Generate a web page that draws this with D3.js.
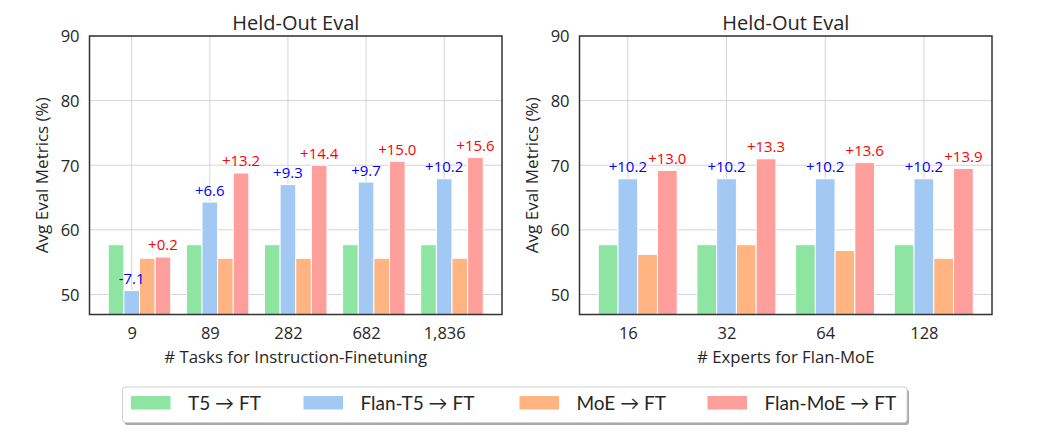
<!DOCTYPE html>
<html>
<head>
<meta charset="utf-8">
<script src="https://cdn.jsdelivr.net/npm/d3@7/dist/d3.min.js"></script>
<style>
  html, body { margin: 0; padding: 0; background: #fff; }
  svg { display: block; }
  text { font-family: "Open Sans", "DejaVu Sans", sans-serif; fill: #262626; }
</style>
</head>
<body>
<svg id="chart" width="1037" height="437"></svg>
<script>
// ---------- Data ----------
const seriesNames = ["T5 \u2192 FT", "Flan-T5 \u2192 FT", "MoE \u2192 FT", "Flan-MoE \u2192 FT"];
const seriesColors = ["#8de5a1", "#a1c9f4", "#ffb482", "#ff9f9b"];

// Left panel: # tasks
const taskLabels = ["9", "89", "282", "682", "1,836"];
const taskT5      = [57.7, 57.7, 57.7, 57.7, 57.7];
const taskFlanT5  = [50.6, 64.3, 67.0, 67.4, 67.9];
const taskMoE     = [55.6, 55.6, 55.6, 55.6, 55.6];
const taskFlanMoE = [55.8, 68.8, 70.0, 70.6, 71.2];
const taskFlanT5Delta  = ["-7.1", "+6.6", "+9.3", "+9.7", "+10.2"];
const taskFlanMoEDelta = ["+0.2", "+13.2", "+14.4", "+15.0", "+15.6"];

// Right panel: # experts
const expertLabels = ["16", "32", "64", "128"];
const expT5      = [57.7, 57.7, 57.7, 57.7];
const expFlanT5  = [67.9, 67.9, 67.9, 67.9];
const expMoE     = [56.2, 57.7, 56.8, 55.6];
const expFlanMoE = [69.2, 71.0, 70.4, 69.5];
const expFlanT5Delta  = ["+10.2", "+10.2", "+10.2", "+10.2"];
const expFlanMoEDelta = ["+13.0", "+13.3", "+13.6", "+13.9"];

const yTicks = [50, 60, 70, 80, 90];
const titleText = "Held-Out Eval";
const yLabelText = "Avg Eval Metrics (%)";

// ---------- Drawing ----------
const svg = d3.select("#chart");
const plotTop = 36, plotBottom = 314.5;
const y = d3.scaleLinear().domain([46.9, 90]).range([plotBottom, plotTop]);

function panel(x0, x1, labels, series, deltaBlue, deltaRed, xLabel) {
  const n = labels.length;
  const w = 0.2;
  const lo = -0.3, hi = (n - 1) + 0.5, m = (hi - lo) * 0.05;
  const x = d3.scaleLinear().domain([lo - m, hi + m]).range([x0, x1]);
  const g = svg.append("g");

  // grid
  g.selectAll(".gy").data(yTicks).enter().append("line")
    .attr("x1", x0).attr("x2", x1)
    .attr("y1", d => y(d)).attr("y2", d => y(d))
    .attr("stroke", "#d4d4d4").attr("stroke-width", 1);
  g.selectAll(".gx").data(d3.range(n)).enter().append("line")
    .attr("x1", d => x(d)).attr("x2", d => x(d))
    .attr("y1", plotTop).attr("y2", plotBottom)
    .attr("stroke", "#d4d4d4").attr("stroke-width", 1);

  // bars
  const offsets = [-1, 0, 1, 2];
  series.forEach((vals, si) => {
    g.selectAll(".b" + si).data(vals).enter().append("rect")
      .attr("x", (d, i) => x(i + offsets[si] * w - w / 2))
      .attr("width", x(w) - x(0))
      .attr("y", d => y(d))
      .attr("height", d => plotBottom - y(d))
      .attr("fill", seriesColors[si])
      .attr("stroke", "#ffffff").attr("stroke-width", 1);
  });

  // annotations
  g.selectAll(".ab").data(deltaBlue).enter().append("text")
    .attr("x", (d, i) => x(i))
    .attr("y", (d, i) => y(series[1][i]) - 6.5)
    .attr("text-anchor", "middle")
    .style("fill", "#0000ff").style("font-size", "15px")
    .text(d => d);
  g.selectAll(".ar").data(deltaRed).enter().append("text")
    .attr("x", (d, i) => x(i + 2 * w))
    .attr("y", (d, i) => y(series[3][i]) - 6.5)
    .attr("text-anchor", "middle")
    .style("fill", "#ff0000").style("font-size", "15px")
    .text(d => d);

  // spines
  g.append("rect").attr("x", x0).attr("y", plotTop)
    .attr("width", x1 - x0).attr("height", plotBottom - plotTop)
    .attr("fill", "none").attr("stroke", "#333333").attr("stroke-width", 1.5);

  // axes (tick labels)
  const xAxis = d3.axisBottom(x).tickValues(d3.range(n))
    .tickFormat(i => labels[i]).tickSize(0).tickPadding(0);
  const xa = g.append("g").attr("transform", `translate(0,${plotBottom + 24})`).call(xAxis);
  xa.select(".domain").remove();
  xa.selectAll("text").attr("dy", 0).style("font-size", "16.5px")
    .style("font-family", "'Open Sans', sans-serif").style("fill", "#262626");

  const yAxis = d3.axisLeft(y).tickValues(yTicks).tickSize(0).tickPadding(0);
  const ya = g.append("g").attr("transform", `translate(${x0 - 10},0)`).call(yAxis);
  ya.select(".domain").remove();
  ya.selectAll("text").attr("dy", "0.36em").style("font-size", "16.5px")
    .style("font-family", "'Open Sans', sans-serif").style("fill", "#262626");

  // title
  g.append("text").attr("x", (x0 + x1) / 2).attr("y", 29.5)
    .attr("text-anchor", "middle").style("font-size", "20px").text(titleText);
  // x label
  g.append("text").attr("x", (x0 + x1) / 2).attr("y", 363)
    .attr("text-anchor", "middle").style("font-size", "16.8px").text(xLabel);
  // y label
  g.append("text").attr("transform", `translate(${x0 - 42},${(plotTop + plotBottom) / 2}) rotate(-90)`)
    .attr("text-anchor", "middle").style("font-size", "17px").text(yLabelText);
}

panel(89.5, 502, taskLabels, [taskT5, taskFlanT5, taskMoE, taskFlanMoE],
      taskFlanT5Delta, taskFlanMoEDelta, "# Tasks for Instruction-Finetuning");
panel(579.5, 992, expertLabels, [expT5, expFlanT5, expMoE, expFlanMoE],
      expFlanT5Delta, expFlanMoEDelta, "# Experts for Flan-MoE");

// legend
const lg = svg.append("g");
const lx0 = 122.5, ly0 = 387, lx1 = 907, ly1 = 422.5;
lg.append("rect").attr("x", lx0 + 2).attr("y", ly0 + 2.5)
  .attr("width", lx1 - lx0).attr("height", ly1 - ly0).attr("rx", 3)
  .attr("fill", "#a8a8a8");
lg.append("rect").attr("x", lx0).attr("y", ly0)
  .attr("width", lx1 - lx0).attr("height", ly1 - ly0).attr("rx", 3)
  .attr("fill", "#ffffff").attr("stroke", "#d0d0d0").attr("stroke-width", 1);
const patchX = [131, 303.5, 519.5, 707.5];
seriesNames.forEach((name, i) => {
  lg.append("rect").attr("x", patchX[i]).attr("y", 396)
    .attr("width", 39.5).attr("height", 13.5).attr("fill", seriesColors[i]);
  lg.append("text").attr("x", patchX[i] + 57).attr("y", 409.5)
    .style("font-family", "Lato, sans-serif")
    .style("font-size", "19px").text(name);
});
</script>
</body>
</html>
